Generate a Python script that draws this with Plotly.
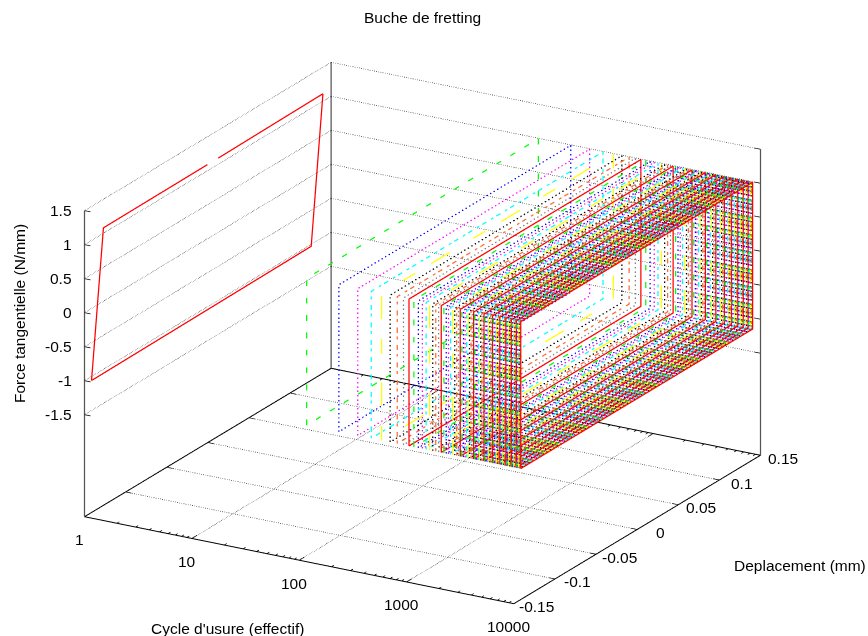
import math
import plotly.graph_objects as go

cycles = [1, 100, 200, 300, 400, 500, 600, 700, 800, 900,
          1000, 1100, 1200, 1300, 1400, 1500, 1600, 1700, 1800, 1900,
          2000, 2100, 2200, 2300, 2400, 2500, 2600, 2700, 2800, 2900,
          3000, 3100, 3200, 3300, 3400, 3500, 3600, 3700, 3800, 3900,
          4000, 4100, 4200, 4300, 4400, 4500, 4600, 4700, 4800, 4900,
          5000, 5100, 5200, 5300, 5400, 5500, 5600, 5700, 5800, 5900,
          6000, 6100, 6200, 6300, 6400, 6500, 6600, 6700, 6800, 6900,
          7000, 7100, 7200, 7300, 7400, 7500, 7600, 7700, 7800, 7900,
          8000, 8100, 8200, 8300, 8400, 8500, 8600, 8700, 8800, 8900,
          9000, 9100, 9200, 9300, 9400, 9500, 9600, 9700, 9800, 9900]

first_disp = [-0.1415, -0.127, -0.0006, None, 0.0127, 0.14, 0.1257, -0.1415]
first_force = [-1.06, 1.08, 1.09, None, 1.09, 1.11, -1.03, -1.06]
loop_disp = [-0.141, -0.141, 0.141, 0.141, -0.141]
loop_force = [-1.08, 1.08, 1.08, -1.08, -1.08]

colors = ["#ff0000", "#00ff00", "#0000ff", "#ff00ff", "#00ffff",
          "#ffff00", "#000000", "#ff6a30", "#808080"]
dashes = ["solid", "dash", "dot", "dot", "dashdot",
          "longdashdot", "dot", "dashdot", "dot"]

x_ticks = [1, 10, 100, 1000, 10000]
x_minor = [2, 3, 4, 5, 6, 7, 8, 9,
           20, 30, 40, 50, 60, 70, 80, 90,
           200, 300, 400, 500, 600, 700, 800, 900,
           2000, 3000, 4000, 5000, 6000, 7000, 8000, 9000]
y_ticks = [-0.15, -0.1, -0.05, 0, 0.05, 0.1, 0.15]
z_ticks = [-1.5, -1, -0.5, 0, 0.5, 1, 1.5]
z_floor = -3
x_labels = ["1", "10", "100", "1000", "10000"]
y_labels = ["-0.15", "-0.1", "-0.05", "0", "0.05", "0.1", "0.15"]
z_labels = ["-1.5", "-1", "-0.5", "0", "0.5", "1", "1.5"]

xa, xb, ya, yb = x_ticks[0], x_ticks[-1], y_ticks[0], y_ticks[-1]
zt = z_ticks[-1]

fig = go.Figure()

def line3(xs, ys, zs, color, dash="solid", width=1.5):
    fig.add_trace(go.Scatter3d(x=xs, y=ys, z=zs, mode="lines", showlegend=False,
                               hoverinfo="skip",
                               line=dict(color=color, dash=dash, width=width)))

GRID = "#333333"
for v in x_ticks[1:-1]:
    line3([v, v], [ya, yb], [z_floor, z_floor], GRID, "dot")
for v in y_ticks[1:-1]:
    line3([xa, xb], [v, v], [z_floor, z_floor], GRID, "dot")
for v in z_ticks:
    line3([xa, xa], [ya, yb], [v, v], GRID, "dot")
    line3([xa, xb], [yb, yb], [v, v], GRID, "dot")

# floor frame
line3([xa, xb, xb, xa, xa], [ya, ya, yb, yb, ya], [z_floor] * 5, "#000000", width=2)
# vertical frame
line3([xa, xa], [ya, ya], [z_floor, zt], "#555555", width=2.5)
line3([xa, xa], [yb, yb], [z_floor, zt], "#555555", width=2.5)
line3([xb, xb], [yb, yb], [z_floor, zt], "#555555", width=2.5)

# ticks, drawn inward from the frame
dy_major, dy_minor = 0.006, 0.003
tk = 10 ** 0.055
tx, ty, tz = [], [], []
for v in x_ticks:
    tx += [v, v, None, v, v, None]
    ty += [ya, ya + dy_major, None, yb, yb - dy_major, None]
    tz += [z_floor, z_floor, None, z_floor, z_floor, None]
for v in x_minor:
    tx += [v, v, None, v, v, None]
    ty += [ya, ya + dy_minor, None, yb, yb - dy_minor, None]
    tz += [z_floor, z_floor, None, z_floor, z_floor, None]
for v in y_ticks:
    tx += [xa, xa * tk, None, xb, xb / tk, None]
    ty += [v, v, None, v, v, None]
    tz += [z_floor, z_floor, None, z_floor, z_floor, None]
for v in z_ticks:
    tx += [xa, xa * tk, None, xb, xb / tk, None]
    ty += [ya, ya, None, yb, yb, None]
    tz += [v, v, None, v, v, None]
line3(tx, ty, tz, "#000000", width=1.5)

for i, n in enumerate(cycles):
    c = colors[i % 9]
    d = dashes[i % 9]
    if i == 0:
        line3([n] * len(first_disp), first_disp, first_force, c, d, 2.5)
    else:
        line3([n] * len(loop_disp), loop_disp, loop_force, c, d, 2.5)

font = dict(family="Liberation Sans", size=15.5, color="#000000")
ann = []
for v, t in zip(x_ticks, x_labels):
    ann.append(dict(x=math.log10(v), y=ya, z=z_floor, text=t, showarrow=False, font=font,
                    xanchor="center", yanchor="middle", xshift=-5, yshift=-23))
for v, t in zip(y_ticks, y_labels):
    ann.append(dict(x=math.log10(xb), y=v, z=z_floor, text=t, showarrow=False, font=font,
                    xanchor="center", yanchor="middle", xshift=23, yshift=-3))
for v, t in zip(z_ticks, z_labels):
    ann.append(dict(x=math.log10(xa), y=ya, z=v, text=t, showarrow=False, font=font,
                    xanchor="right", yanchor="middle", xshift=-11, yshift=0))

def axis(rng, tickvals, kind="linear"):
    return dict(type=kind, range=rng, tickvals=tickvals, showticklabels=False,
                showgrid=False, zeroline=False, showline=False, showbackground=False,
                ticks="inside", ticklen=0, title=dict(text=""), showspikes=False)

s = 2.0
zoom = 1.596 * 622 / 606
tf = dict(family="Liberation Sans", size=15.5, color="#000000")
def px(v):
    return v / 868
def py(v):
    return 1 - v / 636

# small padding keeps lines on the box faces from being clipped
pad = 0.01
fig.update_layout(
    width=868, height=636, autosize=False,
    margin=dict(l=0, r=0, t=0, b=0),
    paper_bgcolor="white",
    font=tf,
    scene=dict(
        domain=dict(x=[0, 0.9735], y=[0, 0.953]),
        xaxis=axis([0 - 4 * pad, 4 + 4 * pad], x_ticks, "log"),
        yaxis=axis([ya - 0.3 * pad, yb + 0.3 * pad], y_ticks),
        zaxis=axis([z_floor - 4.5 * pad, zt + 4.5 * pad], z_ticks),
        aspectmode="manual",
        aspectratio=dict(x=1 * zoom * (1 + 2 * pad), y=0.99 * zoom * (1 + 2 * pad),
                         z=0.658 * zoom * (1 + 2 * pad)),
        camera=dict(projection=dict(type="orthographic"),
                    up=dict(x=0, y=0, z=1),
                    center=dict(x=0, y=0, z=0),
                    eye=dict(x=0.47 * s, y=-0.81 * s, z=0.349 * s)),
        annotations=ann,
    ),
    annotations=[
        dict(x=px(422), y=py(18), xref="paper", yref="paper", showarrow=False,
             xanchor="center", yanchor="middle", text="Buche de fretting", font=tf),
        dict(x=px(19), y=py(314), xref="paper", yref="paper", showarrow=False,
             xanchor="center", yanchor="middle",
             text="Force tangentielle (N/mm)", textangle=-90, font=tf),
        dict(x=px(227), y=py(628), xref="paper", yref="paper", showarrow=False,
             xanchor="center", yanchor="middle", text="Cycle d'usure (effectif)", font=tf),
        dict(x=px(800), y=py(565), xref="paper", yref="paper", showarrow=False,
             xanchor="center", yanchor="middle", text="Deplacement (mm)", font=tf),
    ],
)

fig.write_html("out.html", config=dict(displayModeBar=False),
               post_script="document.body.style.margin='0';")
